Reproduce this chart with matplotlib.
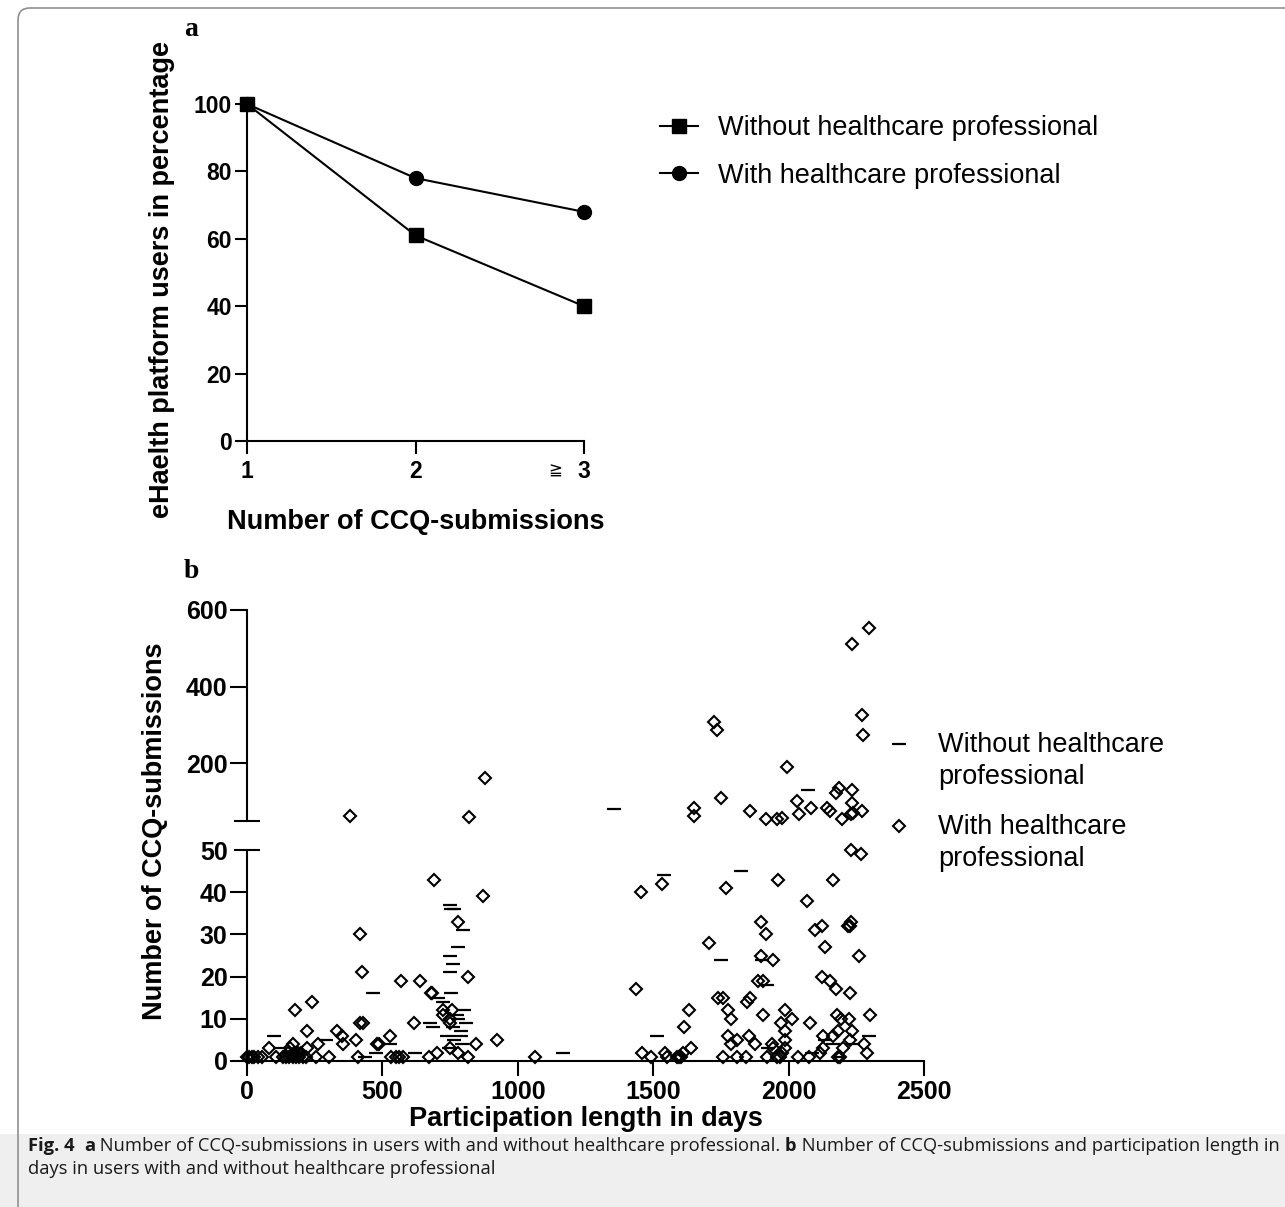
import numpy as np
import matplotlib.pyplot as plt
from matplotlib.lines import Line2D
from matplotlib.patches import FancyBboxPatch, Rectangle

plt.rcParams['font.family'] = ['Liberation Sans', 'DejaVu Sans']

# panel a: share of users (%) by number of CCQ submissions
submissions = [1, 2, 3]
pct_without = [100, 61, 40]
pct_with = [100, 78, 68]

# panel b: participation length (days) vs number of CCQ submissions
without_days = [100, 122, 292, 436, 465, 476, 528, 620, 676, 686,
                705, 723, 750, 752, 765, 797, 779, 750, 760, 750,
                755, 800, 780, 810, 790, 790, 765, 795, 745, 760,
                775, 740, 1167, 1355, 1514, 1540, 1750, 1824, 1900, 1920,
                1924, 2072, 2086, 2134, 2163, 2186, 2238, 2297]
without_counts = [6, 3, 5, 1, 16, 2, 4, 2, 9, 8,
                  15, 14, 37, 36, 36, 31, 27, 25, 23, 21,
                  16, 12, 10, 9, 7, 6, 5, 4, 3, 8,
                  11, 6, 2, 80, 6, 44, 24, 45, 24, 18,
                  3, 132, 2, 5, 4, 1, 4, 6]

with_days = [0, 7, 18, 26, 40, 55, 107, 133, 144, 155,
             170, 181, 192, 207, 218, 255, 303, 410, 532, 550,
             561, 576, 672, 816, 1063, 1491, 1551, 1588, 1595, 1602,
             1757, 1809, 1842, 1920, 1957, 1968, 2035, 2075, 2182, 2190,
             150, 175, 190, 200, 701, 780, 1459, 1544, 1610, 1975, 2116, 2289,
             81, 160, 221, 750, 1639, 1942, 1987, 2128, 2201,
             170, 263, 355, 480, 487, 846, 1786, 1876, 1938, 2278,
             402, 922, 1809, 1987, 2227,
             350, 528, 1775, 1853, 2128, 2163,
             221, 331, 1987, 2182, 2234,
             1614,
             417, 428, 617, 751, 1971, 2079,
             750, 1786, 2013, 2193, 2223,
             723, 1905, 2178, 2300,
             177, 723, 756, 1633, 1775, 1987,
             240, 1846,
             1740, 1757, 1857,
             679, 685, 2227,
             1436, 2174,
             569, 639, 1887, 1905, 2153,
             816, 2124,
             425, 1942, 1898, 2260, 2134, 1706,
             417, 1916, 2097,
             2124, 2219, 2225,
             779, 1898, 2232,
             2068, 870, 1455, 1769, 1532,
             691, 1961, 2163,
             2267, 2230,
             380, 820, 879, 1651, 1651, 1725, 1736, 1751, 1857, 1916,
             1957, 1976, 1993, 2030, 2038, 2083, 2141, 2153, 2174, 2186,
             2198, 2234, 2234, 2230, 2238, 2271, 2234, 2297, 2271, 2275]
with_counts = [1] * 40 + [2] * 12 + [3] * 9 + [4] * 10 + [5] * 5 + [6] * 6 + \
              [7] * 5 + [8] + [9] * 6 + [10] * 5 + [11] * 4 + [12] * 6 + \
              [14] * 2 + [15] * 3 + [16] * 3 + [17] * 2 + [19] * 5 + [20] * 2 + \
              [21, 24, 25, 25, 27, 28] + [30, 30, 31] + [32] * 3 + [33] * 3 + \
              [38, 39, 40, 41, 42] + [43] * 3 + [49, 50] + \
              [64, 61, 161, 85, 62, 307, 288, 111, 75, 56,
               54, 59, 192, 103, 69, 83, 85, 77, 122, 135,
               56, 130, 98, 69, 72, 75, 511, 553, 326, 273]

W, H = 1285, 1207


def box(l, t, r, b):
    return [l / W, 1 - b / H, (r - l) / W, (b - t) / H]


fig = plt.figure(figsize=(W / 100, H / 100), dpi=100)

# frame and caption band
fig.patches.append(Rectangle((0, 0), 1, 1 - 1134 / H, transform=fig.transFigure,
                             facecolor='#efefef', edgecolor='none', zorder=-2))
fig.patches.append(FancyBboxPatch((0.18, -1), 14, 1 + (H - 8) / 100,
                                  boxstyle='round,pad=0,rounding_size=0.12',
                                  transform=fig.dpi_scale_trans, fill=False,
                                  edgecolor='#909090', lw=1.2, zorder=-1))

tick_kw = dict(width=1.5, color='black')

# ---------------- panel a ----------------
ax_a = fig.add_axes(box(247, 104, 584, 441))
l_with, = ax_a.plot(submissions, pct_with, '-o', color='black', lw=1.5, ms=10,
                    clip_on=False, zorder=3)
l_without, = ax_a.plot(submissions, pct_without, '-s', color='black', lw=1.5, ms=10,
                       clip_on=False, zorder=4)
ax_a.set_xlim(1, 3)
ax_a.set_ylim(0, 100)
ax_a.set_xticks(submissions)
ax_a.set_yticks(range(0, 101, 20))
for s in ['top', 'right']:
    ax_a.spines[s].set_visible(False)
for s in ['left', 'bottom']:
    ax_a.spines[s].set_linewidth(1.5)
ax_a.tick_params(axis='y', length=9, pad=2, labelsize=16.5, **tick_kw)
ax_a.tick_params(axis='x', length=9, pad=5, labelsize=16.5, **tick_kw)
for lab in ax_a.get_xticklabels() + ax_a.get_yticklabels():
    lab.set_fontweight('bold')
ax_a.annotate('≧', xy=(3, 0), xytext=(-21, -21), textcoords='offset points',
              ha='center', va='center', fontsize=12, family=['DejaVu Sans'])
ax_a.set_xlabel('Number of CCQ-submissions', fontsize=19.5, fontweight='bold')
ax_a.xaxis.set_label_coords(0.5, -0.203)
ax_a.set_ylabel('eHaelth platform users in percentage', fontsize=19.5, fontweight='bold')
ax_a.yaxis.set_label_coords(-0.215, 0.48)
ax_a.legend([l_without, l_with],
            ['Without healthcare professional', 'With healthcare professional'],
            loc='center left', bbox_to_anchor=(660 / W, 1 - 152 / H),
            bbox_transform=fig.transFigure, frameon=False, fontsize=19.5,
            handlelength=1.4, handletextpad=0.75, labelspacing=0.78,
            borderpad=0, borderaxespad=0)
fig.text(184 / W, 1 - 30 / H, 'a', family='Liberation Serif', fontweight='bold',
         fontsize=20, va='center')

# ---------------- panel b ----------------
days_wo = np.array(without_days)
cnt_wo = np.array(without_counts)
days_w = np.array(with_days)
cnt_w = np.array(with_counts)

ax_up = fig.add_axes(box(247, 610, 924, 821))
ax_lo = fig.add_axes(box(247, 850, 924, 1061))

dash_kw = dict(marker='_', ls='none', color='black', ms=10, mew=1.6, clip_on=False)
dia_kw = dict(marker='D', ls='none', mfc='none', mec='black', ms=6.5, mew=1.5,
              clip_on=False)

up_wo = cnt_wo > 50
up_w = cnt_w > 50
ax_up.plot(days_wo[up_wo], cnt_wo[up_wo], **dash_kw)
ax_up.plot(days_w[up_w], cnt_w[up_w], **dia_kw)
ax_lo.plot(days_wo[~up_wo], cnt_wo[~up_wo], **dash_kw)
ax_lo.plot(days_w[~up_w], cnt_w[~up_w], **dia_kw)

for ax in (ax_up, ax_lo):
    ax.set_xlim(0, 2500)
    ax.spines['top'].set_visible(False)
    ax.spines['right'].set_visible(False)
    ax.spines['left'].set_linewidth(1.5)
    ax.spines['bottom'].set_linewidth(1.5)

ax_up.set_ylim(50, 600)
ax_up.spines['bottom'].set_visible(False)
ax_up.set_xticks([])
ax_up.set_yticks([200, 400, 600])
ax_up.set_yticks([50], minor=True)
ax_up.set_yticklabels([''], minor=True)
ax_up.tick_params(axis='y', which='major', length=12, pad=2, labelsize=18, **tick_kw)
ax_up.tick_params(axis='y', which='minor', direction='inout', length=19, **tick_kw)

ax_lo.set_ylim(0, 50)
ax_lo.set_yticks(range(0, 41, 10))
ax_lo.set_yticks([50], minor=True)
ax_lo.set_yticklabels(['50'], minor=True)
ax_lo.set_xticks(range(0, 2501, 500))
ax_lo.tick_params(axis='y', which='major', length=12, pad=2, labelsize=18, **tick_kw)
ax_lo.tick_params(axis='y', which='minor', direction='inout', length=19, pad=4,
                  labelsize=18, **tick_kw)
ax_lo.tick_params(axis='x', length=11, pad=3, labelsize=18, **tick_kw)
for lab in (ax_up.get_yticklabels() + ax_lo.get_yticklabels()
            + ax_lo.get_yticklabels(minor=True) + ax_lo.get_xticklabels()):
    lab.set_fontweight('bold')
ax_lo.set_xlabel('Participation length in days', fontsize=19.5, fontweight='bold')
ax_lo.xaxis.set_label_coords(0.5, -0.215)
fig.text(155 / W, 1 - 831 / H, 'Number of CCQ-submissions', rotation=90,
         fontsize=19.5, fontweight='bold', ha='center', va='center')
fig.text(184 / W, 1 - 571 / H, 'b', family='Liberation Serif', fontweight='bold',
         fontsize=20, va='center')

# legend for panel b (marker beside the first line of each label)
leg_items = [(744, 'Without healthcare\nprofessional', dash_kw),
             (826, 'With healthcare\nprofessional', dia_kw)]
for y, label, kw in leg_items:
    kw = dict(kw)
    kw.pop('clip_on')
    fig.add_artist(Line2D([899 / W], [1 - y / H], transform=fig.transFigure, **kw))
    fig.text(938 / W, 1 - (y - 12) / H, label, fontsize=19.5, va='top',
             linespacing=1.32)

# caption
cap_font = dict(family=['Open Sans', 'DejaVu Sans'], fontsize=13.25, color='#1a1a1a')
pieces = [('Fig. 4', 'bold'), ('  ', 'normal'), ('a', 'bold'),
          (' Number of CCQ-submissions in users with and without healthcare professional. ', 'normal'),
          ('b', 'bold'),
          (' Number of CCQ-submissions and participation length in', 'normal')]
prev = fig.text(28 / W, 1 - 1146 / H, pieces[0][0], fontweight=pieces[0][1],
                va='center', **cap_font)
for txt, wt in pieces[1:]:
    prev = fig.add_artist(plt.Annotation(txt, xy=(1, 0), xycoords=prev, va='bottom',
                                         ha='left', fontweight=wt, **cap_font))
fig.text(28 / W, 1 - 1169 / H, 'days in users with and without healthcare professional',
         va='center', **cap_font)

fig.savefig('out.png', dpi=100)
